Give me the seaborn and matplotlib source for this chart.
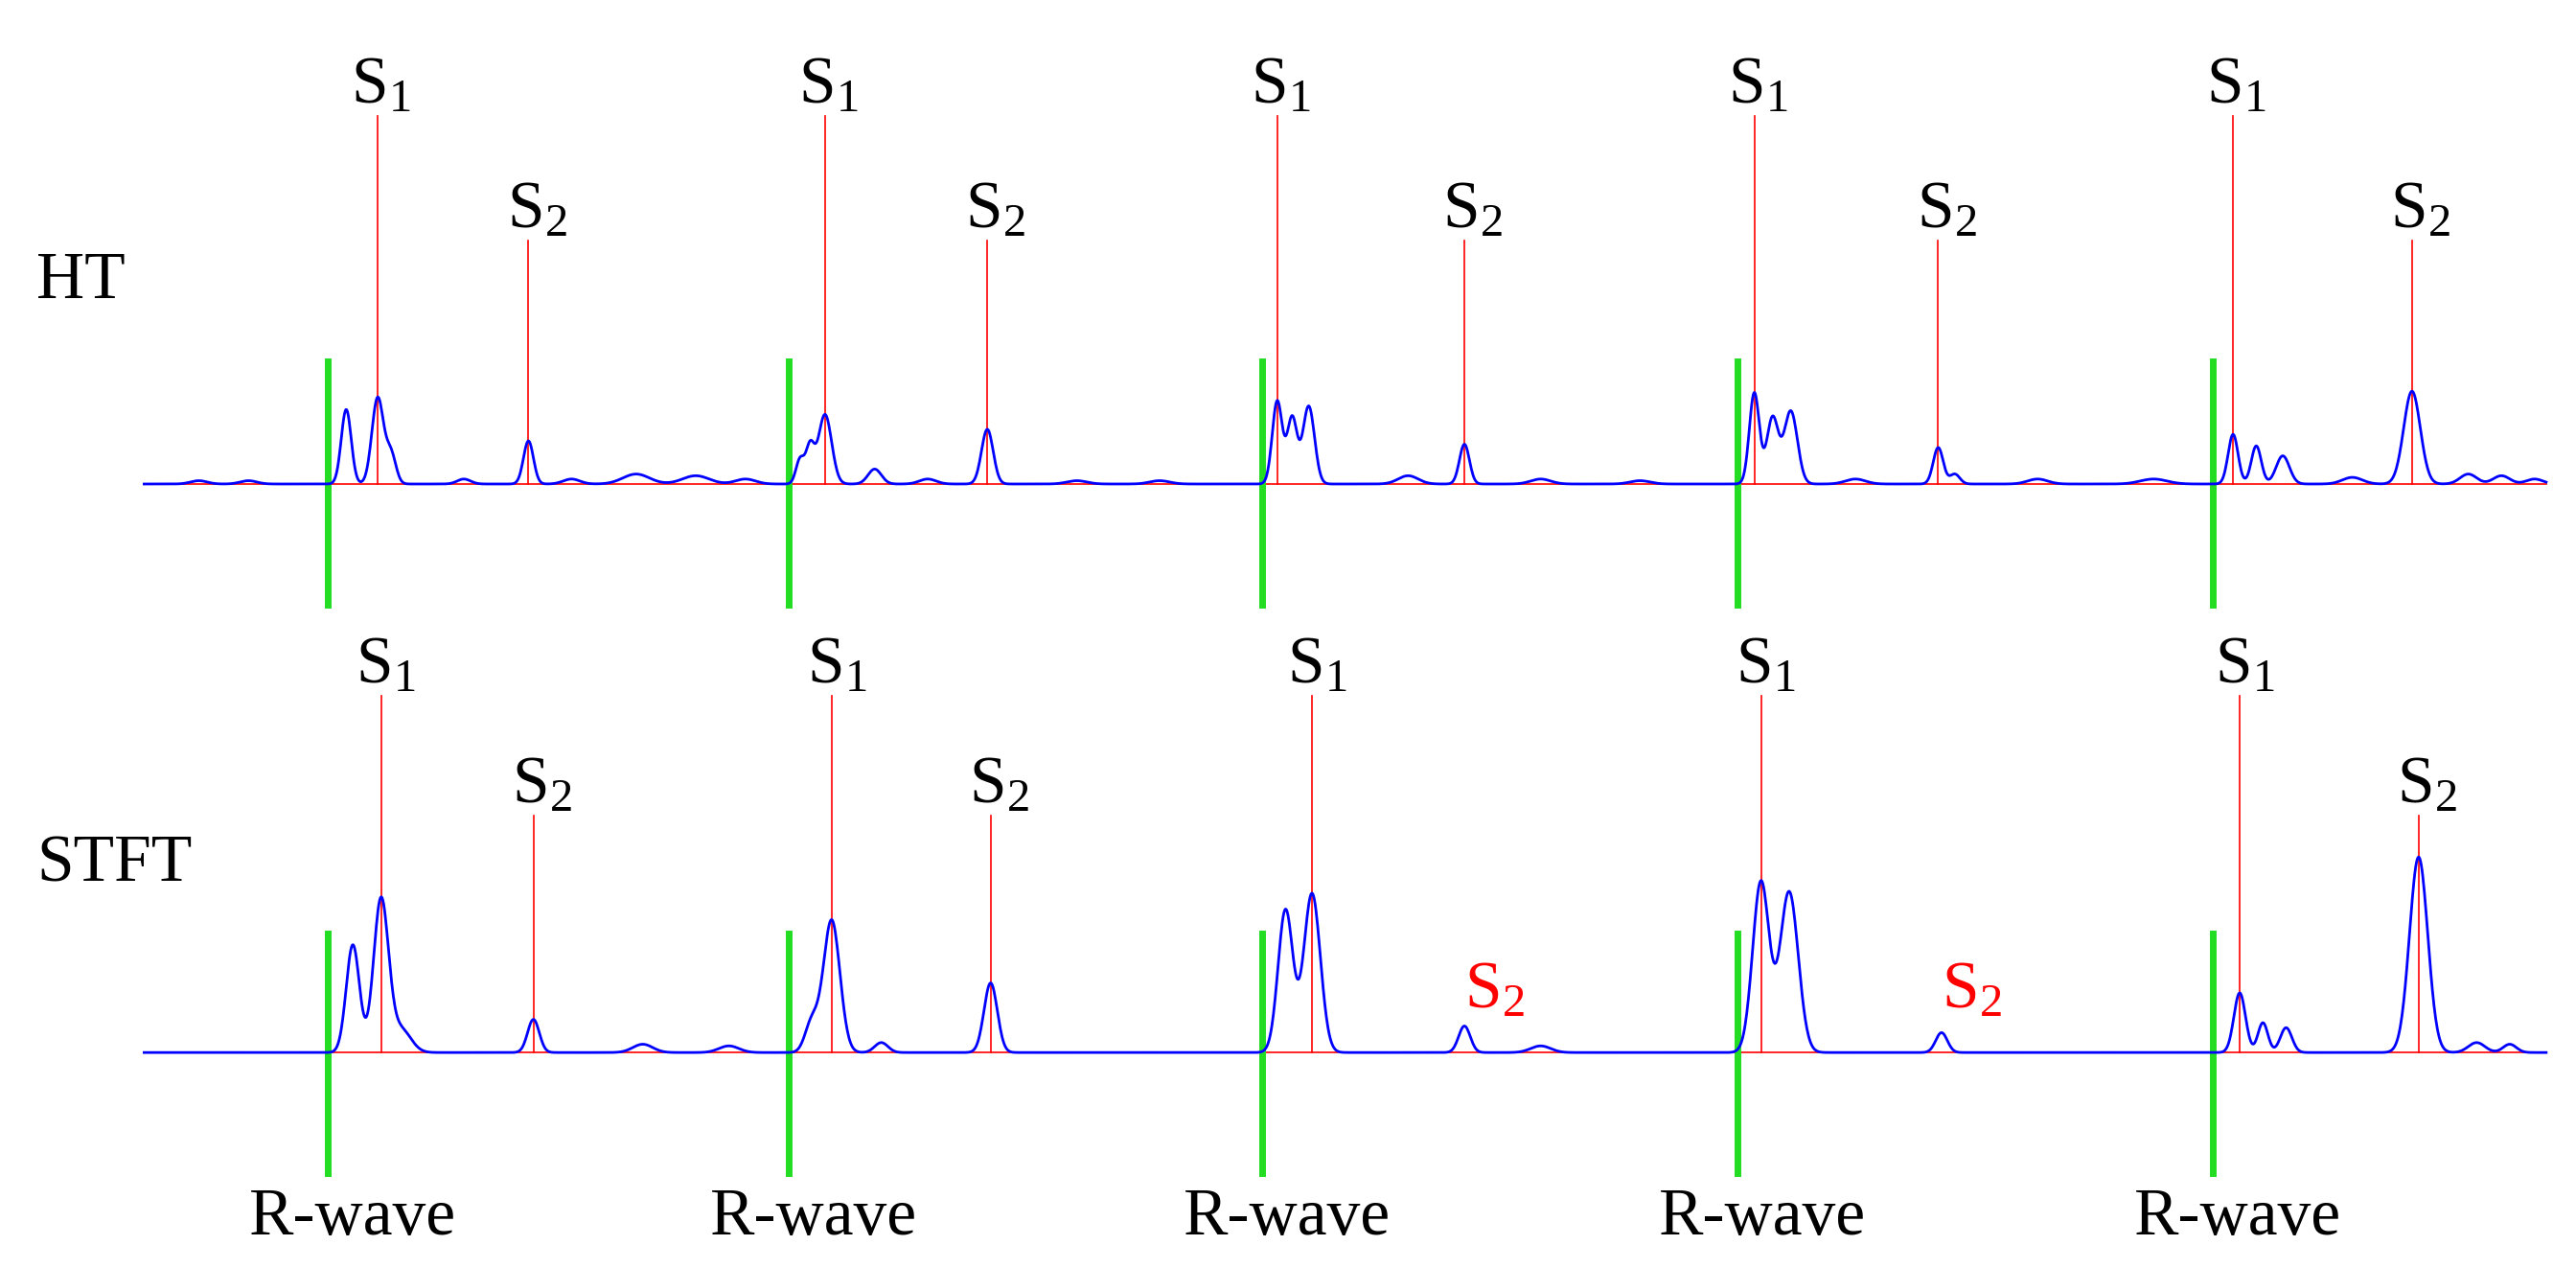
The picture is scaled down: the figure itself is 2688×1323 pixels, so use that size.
import numpy as np
import pandas as pd
import seaborn as sns
import matplotlib.pyplot as plt

# positions of beats (x in picture units), R-wave markers and sound labels
r_wave_x = [198, 476, 762, 1049, 1336]
ht_s1_x = [228, 498, 771, 1059, 1348]
ht_s2_x = [319, 596, 884, 1170, 1456]
stft_s1_x = [230, 502, 792, 1063, 1352]
stft_s2_x = [322, 598, 884, 1172, 1460]
stft_s2_missed = [False, False, True, True, False]

# peaks: (position, height, width)
ht_peaks = [
    (209, 45, 3), (228, 52, 3.5), (236, 18, 3), (319, 26, 3), (384, 6, 8), (420, 5, 8),
    (483, 15, 2.5), (489, 22, 2.5), (498, 42, 4), (528, 9, 4), (596, 33, 3.5),
    (771, 50, 3), (780, 40, 3), (790, 47, 3.5), (850, 5, 6), (884, 24, 3),
    (1059, 55, 3), (1070, 40, 3.5), (1081, 44, 4), (1170, 22, 3), (1180, 6, 3),
    (1348, 30, 3), (1362, 23, 3), (1378, 17, 4), (1456, 56, 5), (1490, 6, 5), (1510, 5, 5),
]
stft_peaks = [
    (213, 65, 4), (230, 92, 4.5), (242, 14, 6), (322, 20, 3.5), (388, 5, 6), (440, 4, 6),
    (490, 18, 4), (502, 80, 5), (532, 6, 4), (598, 42, 4),
    (776, 86, 4.5), (792, 96, 5), (884, 16, 3.5), (930, 4, 6),
    (1063, 103, 5), (1080, 97, 5.5), (1172, 12, 3.5),
    (1352, 36, 3.5), (1366, 18, 3), (1380, 15, 3.5), (1460, 118, 5.5), (1495, 6, 5), (1515, 5, 4),
]
ht_small = [(120, 2, 5), (150, 2, 5), (280, 3, 4), (345, 3, 5), (450, 3, 6), (560, 3, 5),
            (650, 2, 6), (700, 2, 6), (930, 3, 6), (990, 2, 6), (1120, 3, 6), (1230, 3, 6),
            (1300, 3, 8), (1420, 4, 6), (1530, 3, 5)]

x = np.linspace(87, 1537, 3000)


def build(peaks):
    y = np.zeros_like(x)
    for pos, h, w in peaks:
        y += h * np.exp(-0.5 * ((x - pos) / w) ** 2)
    return y


ht_y = 292 - build(ht_peaks + ht_small)
stft_y = 635 - build(stft_peaks)
df = pd.concat([
    pd.DataFrame({"x": x, "y": ht_y, "panel": "HT"}),
    pd.DataFrame({"x": x, "y": stft_y, "panel": "STFT"}),
])

fig = plt.figure(figsize=(26.88, 13.23), dpi=100)
ax = fig.add_axes([0, 0, 1, 1])
ax.set_xlim(0, 1555)
ax.set_ylim(765, 0)
ax.axis("off")

font = dict(family="Liberation Serif", fontsize=50)

# baselines
ax.plot([87, 1537], [292, 292], color="red", lw=1.2)
ax.plot([87, 1537], [635, 635], color="red", lw=1.2)

for i in range(5):
    ax.plot([r_wave_x[i]] * 2, [218, 365], color="#22dd22", lw=5)
    ax.plot([r_wave_x[i]] * 2, [563, 708], color="#22dd22", lw=5)
    ax.text(r_wave_x[i] + 15, 745, "R-wave", ha="center", va="baseline", **font)

    ax.plot([ht_s1_x[i]] * 2, [70, 292], color="red", lw=1.2)
    ax.text(ht_s1_x[i] + 2, 62, r"$\mathregular{S_1}$", ha="center", va="baseline", **font)
    ax.plot([ht_s2_x[i]] * 2, [145, 292], color="red", lw=1.2)
    ax.text(ht_s2_x[i] + 5, 137, r"$\mathregular{S_2}$", ha="center", va="baseline", **font)

    ax.plot([stft_s1_x[i]] * 2, [420, 635], color="red", lw=1.2)
    ax.text(stft_s1_x[i] + 3, 412, r"$\mathregular{S_1}$", ha="center", va="baseline", **font)
    if stft_s2_missed[i]:
        ax.text(stft_s2_x[i] + 18, 608, r"$\mathregular{S_2}$", ha="center", va="baseline",
                color="red", **font)
    else:
        ax.plot([stft_s2_x[i]] * 2, [492, 635], color="red", lw=1.2)
        ax.text(stft_s2_x[i] + 5, 484, r"$\mathregular{S_2}$", ha="center", va="baseline", **font)

sns.lineplot(data=df[df.panel == "HT"], x="x", y="y", color="blue", lw=2, ax=ax, sort=False)
sns.lineplot(data=df[df.panel == "STFT"], x="x", y="y", color="blue", lw=2, ax=ax, sort=False)
ax.axis("off")

ax.text(22, 170, "HT", ha="left", va="center", **font)
ax.text(22, 522, "STFT", ha="left", va="center", **font)

fig.savefig("out.png", dpi=100)
